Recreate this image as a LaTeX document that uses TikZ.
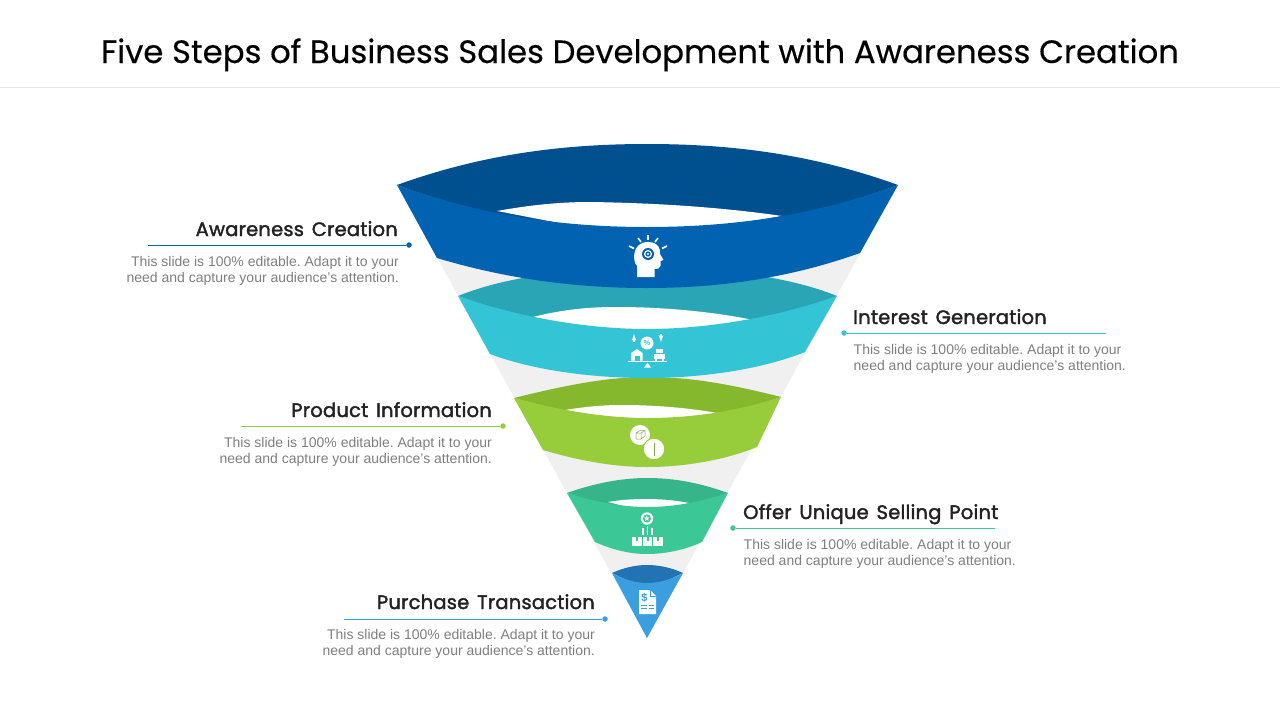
\documentclass[tikz,border=0pt]{standalone}
\usepackage{fontspec}
\setmainfont{Liberation Sans}
\newfontfamily\titlefont[FakeBold=0.35]{Poppins}
\newfontfamily\headfont[LetterSpace=1.1,WordSpace=1.45,FakeBold=1.8]{Poppins}
\definecolor{bandA}{HTML}{0062B1}
\definecolor{bandAback}{HTML}{00508F}
\definecolor{bandB}{HTML}{33C5D6}
\definecolor{bandBback}{HTML}{2AA5B5}
\definecolor{bandC}{HTML}{97CC3A}
\definecolor{bandCback}{HTML}{86B82E}
\definecolor{bandD}{HTML}{3CC896}
\definecolor{bandDback}{HTML}{36B48A}
\definecolor{bandE}{HTML}{3A9EDF}
\definecolor{bandEback}{HTML}{2273B3}
\definecolor{funnel}{HTML}{F0F0F0}
\definecolor{rule}{HTML}{E8E8E8}
\definecolor{bodytext}{HTML}{7F7F7F}
\definecolor{headtext}{HTML}{222222}
\newcommand{\slidetext}{This slide is 100\% editable. Adapt it to your\\need and capture your audience’s attention.}
\tikzset{
    heading/.style={inner sep=0pt, text=headtext, font=\headfont\fontsize{19.5}{24}\selectfont},
    blurb/.style={inner sep=0pt, text=bodytext, font=\frenchspacing\fontsize{14}{16}\selectfont},
    leaddot/.style={circle, inner sep=0pt, minimum size=5.5pt},
    iconline/.style={white, line width=1.6pt}
}
\begin{document}
\begin{tikzpicture}[x=1pt, y=-1pt]
    \useasboundingbox (0, 0) rectangle (1280, 720);
    \fill[white] (0, 0) rectangle (1280, 720);
    \node[inner sep=0pt, anchor=base] (title) at (640, 63) {\titlefont\fontsize{32.3}{38}\selectfont Five Steps of Business Sales Development with Awareness Creation};
    \draw[rule] (0, 87.5) -- (1280, 87.5);

    \fill[funnel] (397, 185) -- (898, 185) -- (647, 638) -- cycle;

    \fill[bandEback] (612, 573) .. controls (623, 568) and (635, 565) .. (647, 565) .. controls (660, 565) and (672, 568) .. (683, 573) -- (647, 590) -- cycle;
    \fill[bandE] (612, 573) .. controls (623, 579) and (635, 583) .. (647, 583) .. controls (660, 583) and (672, 579) .. (683, 573) -- (647, 638) -- cycle;

    \fill[bandDback] (567, 493) .. controls (595, 483) and (622, 478) .. (647, 478) .. controls (675, 478) and (700, 483) .. (728, 493) .. controls (700, 503) and (675, 508) .. (647, 508) .. controls (622, 508) and (595, 503) .. (567, 493) -- cycle;
    \fill[white] (608, 502) .. controls (622, 499.5) and (635, 499) .. (647, 499) .. controls (662, 499) and (677, 500.5) .. (689, 503) -- (647, 512) -- cycle;
    \fill[bandD] (567, 493) .. controls (595, 502) and (622, 507) .. (647, 507) .. controls (675, 507) and (700, 502) .. (728, 493) -- (702, 542) .. controls (685, 550) and (665, 554) .. (647, 554) .. controls (630, 554) and (613, 550) .. (595, 542) -- cycle;

    \fill[bandCback] (514, 398) .. controls (570, 384) and (610, 377) .. (647, 377) .. controls (690, 377) and (730, 384) .. (781, 397) .. controls (735, 413) and (690, 419) .. (647, 419) .. controls (610, 419) and (565, 413) .. (514, 398) -- cycle;
    \fill[white] (565, 410) .. controls (590, 406) and (605, 405) .. (623, 405) .. controls (655, 405) and (690, 408) .. (717, 413) -- (647, 425) -- cycle;
    \fill[bandC] (514, 398) .. controls (565, 412) and (610, 418) .. (647, 418) .. controls (690, 418) and (735, 412) .. (781, 397) -- (757, 447) .. controls (725, 460) and (685, 467) .. (647, 467) .. controls (615, 467) and (580, 461) .. (543, 450) -- cycle;

    \fill[bandBback] (458, 296) .. controls (510, 275) and (580, 268) .. (647, 268) .. controls (715, 268) and (785, 275) .. (837, 296) .. controls (775, 319) and (705, 330) .. (647, 330) .. controls (590, 330) and (520, 319) .. (458, 296) -- cycle;
    \fill[white] (533, 317) .. controls (565, 309) and (590, 307) .. (617, 307) .. controls (665, 307) and (715, 312) .. (753, 320) -- (647, 340) -- cycle;
    \fill[bandB] (458, 296) .. controls (520, 318) and (590, 329) .. (647, 329) .. controls (705, 329) and (775, 318) .. (837, 296) -- (805, 352) .. controls (760, 370) and (700, 378) .. (647, 378) .. controls (595, 378) and (535, 371) .. (490, 354) -- cycle;

    \fill[bandAback] (397, 185) .. controls (480, 155) and (560, 144) .. (647, 144) .. controls (735, 144) and (815, 155) .. (898, 185) .. controls (815, 216) and (735, 228) .. (647, 228) .. controls (560, 228) and (480, 216) .. (397, 185) -- cycle;
    \fill[white] (497, 211) .. controls (530, 205) and (560, 202) .. (590, 202) .. controls (655, 203) and (720, 207) .. (782, 216) -- (647, 240) -- cycle;
    \fill[bandA] (397, 185) .. controls (480, 215) and (560, 227) .. (647, 227) .. controls (735, 227) and (815, 215) .. (898, 185) -- (860, 253) .. controls (790, 278) and (720, 288) .. (647, 288) .. controls (580, 288) and (510, 280) .. (437, 258) -- cycle;

    \fill[white] (637, 277) -- (637, 266) .. controls (632, 261) and (632, 242) .. (648, 242) .. controls (658, 242) and (661, 249) .. (660, 254) -- (663.5, 260) -- (660.5, 261) -- (660.5, 266) .. controls (660, 269) and (657, 269) .. (654.5, 269) -- (654.5, 277) -- cycle;
    \fill[bandA] (648, 254) circle (6);
    \fill[white] (648, 254) circle (4);
    \fill[bandA] (648, 254) circle (2.6);
    \fill[white] (648, 254) circle (1.2);
    \draw[iconline] (648, 235) -- (648, 240);
    \draw[iconline] (638, 238) -- (641, 242);
    \draw[iconline] (658, 238) -- (655, 242);
    \draw[iconline] (629, 246) -- (634, 248.5);
    \draw[iconline] (667, 246) -- (662, 248.5);

    \fill[white] (647, 343) circle (6.5);
    \node[inner sep=0pt, text=bandB, font=\bfseries\fontsize{7.5}{8}\selectfont] (percent) at (647, 343) {\%};
    \draw[iconline, line width=1.2pt, -latex] (634, 342) -- (634, 334);
    \draw[iconline, line width=1.2pt, -latex] (661, 334) -- (661, 342);
    \fill[white] (637, 349) -- (642.5, 353) -- (642.5, 360.5) -- (631, 360.5) -- (631, 353) -- cycle;
    \fill[bandB] (634.5, 360.5) -- (634.5, 356) -- (639.5, 356) -- (639.5, 360.5) -- cycle;
    \fill[white] (656, 349) rectangle (663, 353);
    \fill[white] (654, 354) rectangle (665, 359);
    \fill[white] (655, 359) rectangle (657, 361);
    \fill[white] (662, 359) rectangle (664, 361);
    \draw[white, line width=0.8pt] (628, 361.5) -- (667, 361.5);
    \fill[white] (647.5, 363) -- (651, 367.5) -- (644, 367.5) -- cycle;

    \fill[white] (640, 435) circle (10);
    \draw[bandC, line width=1pt, fill=white] (654, 449) circle (10.8);
    \draw[bandCback!70!gray, line width=0.5pt] (636, 433) -- (640, 430.5) -- (645, 430.5) -- (645, 436) -- (641, 439) -- (636, 439) -- cycle (636, 433) -- (641, 433) -- (645, 430.5) (641, 433) -- (641, 439);
    \draw[bandCback!70!gray, line width=0.6pt] (654, 443) -- (654, 456);

    \fill[white, even odd rule] (647, 518.5) circle (6.2) (647, 518.5) circle (4.2);
    \node[inner sep=0pt, text=white, font=\fontsize{8}{8}\selectfont] (star) at (647, 518.5) {\fontspec{DejaVu Sans}★};
    \draw[white, line width=1.3pt] (643, 528) -- (643, 535);
    \draw[white, line width=1.3pt] (647.5, 526) -- (647.5, 535);
    \draw[white, line width=1.3pt] (652, 528) -- (652, 535);
    \fill[white] (632, 537) rectangle (641.5, 545.5);
    \fill[white] (642.5, 537) rectangle (652, 545.5);
    \fill[white] (653, 537) rectangle (663, 545.5);
    \fill[bandD] (636, 537) rectangle (638, 540.5);
    \fill[bandD] (646.5, 537) rectangle (648.5, 540.5);
    \fill[bandD] (657, 537) rectangle (659, 540.5);

    \fill[white] (639, 590) -- (650, 590) -- (656, 596) -- (656, 614) -- (639, 614) -- cycle;
    \draw[bandE, line width=0.6pt] (650, 590) -- (650, 596) -- (656, 596);
    \node[inner sep=0pt, text=bandE, font=\bfseries\fontsize{11}{11}\selectfont] (dollar) at (644.5, 598) {\$};
    \draw[bandE, line width=0.9pt] (641, 605) -- (647, 605) (648.5, 605) -- (654, 605);
    \draw[bandE, line width=0.9pt] (641, 608.5) -- (647, 608.5) (648.5, 608.5) -- (654, 608.5);

    \node[heading, anchor=base east] (awareness) at (398, 236) {Awareness Creation};
    \node[blurb, anchor=north east, align=right] (awarenesstext) at (399, 256) {\slidetext};
    \node[leaddot, fill=bandA] (awarenessdot) at (409, 245) {};
    \coordinate (awarenessend) at (148, 245);
    \draw[bandA] (awarenessend) -- (awarenessdot);

    \node[heading, anchor=base west] (interest) at (853, 324) {Interest Generation};
    \node[blurb, anchor=north west, align=left] (interesttext) at (853.5, 344) {\slidetext};
    \node[leaddot, fill=bandB] (interestdot) at (844, 333) {};
    \coordinate (interestend) at (1106, 333);
    \draw[bandB] (interestdot) -- (interestend);

    \node[heading, anchor=base east] (product) at (492, 417) {Product Information};
    \node[blurb, anchor=north east, align=right] (producttext) at (492, 437) {\slidetext};
    \node[leaddot, fill=bandC] (productdot) at (503, 426) {};
    \coordinate (productend) at (241, 426);
    \draw[bandC] (productend) -- (productdot);

    \node[heading, anchor=base west] (offer) at (743, 519) {Offer Unique Selling Point};
    \node[blurb, anchor=north west, align=left] (offertext) at (743.5, 539) {\slidetext};
    \node[leaddot, fill=bandD] (offerdot) at (733, 528) {};
    \coordinate (offerend) at (995, 528);
    \draw[bandD] (offerdot) -- (offerend);

    \node[heading, anchor=base east] (purchase) at (595, 609) {Purchase Transaction};
    \node[blurb, anchor=north east, align=right] (purchasetext) at (595, 629) {\slidetext};
    \node[leaddot, fill=bandE] (purchasedot) at (605, 619) {};
    \coordinate (purchaseend) at (344, 619);
    \draw[bandE] (purchaseend) -- (purchasedot);
\end{tikzpicture}
\end{document}
